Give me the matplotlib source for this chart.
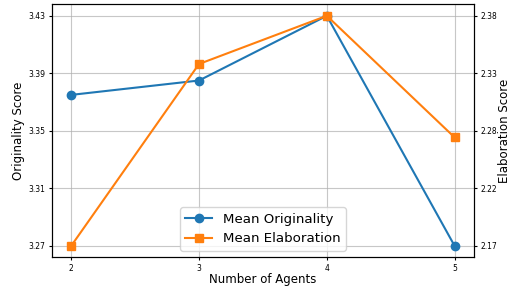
import matplotlib
matplotlib.use("Agg")
import matplotlib.pyplot as plt
import numpy as np

agents = [2, 3, 4, 5]
originality = [3.375, 3.385, 3.43, 3.27]
elaboration = [2.171, 2.337, 2.381, 2.27]

fig, ax1 = plt.subplots(figsize=(5.1, 2.86), dpi=100)

l1, = ax1.plot(agents, originality, color='tab:blue', marker='o', markersize=6, label='Mean Originality')
ax1.set_xlabel('Number of Agents', fontsize=8.5, labelpad=0)
ax1.set_ylabel('Originality Score', fontsize=8.5, labelpad=2.5)
ax1.set_xticks(agents)
ax1.set_yticks(np.linspace(min(originality), max(originality), 5))
ax1.yaxis.set_major_formatter(matplotlib.ticker.FormatStrFormatter('%.2f'))
ax1.tick_params(labelsize=5.5, length=2.5, pad=2.5)
ax1.grid(True, alpha=0.7)

ax2 = ax1.twinx()
l2, = ax2.plot(agents, elaboration, color='tab:orange', marker='s', markersize=6, label='Mean Elaboration')
ax2.set_ylabel('Elaboration Score', fontsize=8.5, labelpad=0.5)
ax2.set_yticks(np.linspace(min(elaboration), max(elaboration), 5))
ax2.yaxis.set_major_formatter(matplotlib.ticker.FormatStrFormatter('%.2f'))
ax2.tick_params(labelsize=5.5, length=2.5, pad=2.5)

ax1.legend([l1, l2], [l1.get_label(), l2.get_label()], loc='lower center', fontsize=9.6)

fig.subplots_adjust(left=0.102, right=0.929, top=0.985, bottom=0.1)
fig.savefig('out.png')
